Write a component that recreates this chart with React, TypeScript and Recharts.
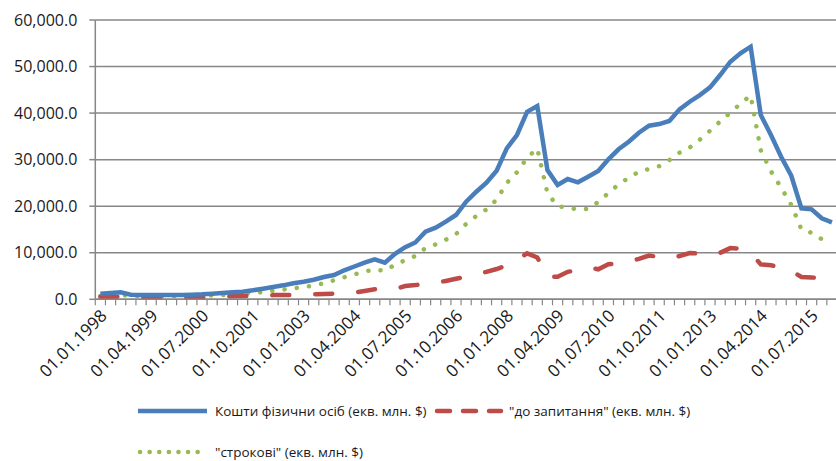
import { CartesianGrid, Line, LineChart, XAxis, YAxis } from "recharts";

// quarterly, 01.01.1998 .. 01.01.2016
const QUARTERS = [
  "01.01.1998", "01.04.1998", "01.07.1998", "01.10.1998",
  "01.01.1999", "01.04.1999", "01.07.1999", "01.10.1999",
  "01.01.2000", "01.04.2000", "01.07.2000", "01.10.2000",
  "01.01.2001", "01.04.2001", "01.07.2001", "01.10.2001",
  "01.01.2002", "01.04.2002", "01.07.2002", "01.10.2002",
  "01.01.2003", "01.04.2003", "01.07.2003", "01.10.2003",
  "01.01.2004", "01.04.2004", "01.07.2004", "01.10.2004",
  "01.01.2005", "01.04.2005", "01.07.2005", "01.10.2005",
  "01.01.2006", "01.04.2006", "01.07.2006", "01.10.2006",
  "01.01.2007", "01.04.2007", "01.07.2007", "01.10.2007",
  "01.01.2008", "01.04.2008", "01.07.2008", "01.10.2008",
  "01.01.2009", "01.04.2009", "01.07.2009", "01.10.2009",
  "01.01.2010", "01.04.2010", "01.07.2010", "01.10.2010",
  "01.01.2011", "01.04.2011", "01.07.2011", "01.10.2011",
  "01.01.2012", "01.04.2012", "01.07.2012", "01.10.2012",
  "01.01.2013", "01.04.2013", "01.07.2013", "01.10.2013",
  "01.01.2014", "01.04.2014", "01.07.2014", "01.10.2014",
  "01.01.2015", "01.04.2015", "01.07.2015", "01.10.2015",
  "01.01.2016",
];

// Кошти фізичних осіб, екв. млн. $
const TOTAL = [
  1200, 1350, 1500, 990, 920, 910, 920, 930, 950, 1000,
  1070, 1200, 1350, 1500, 1640, 1930, 2280, 2640, 3000, 3440,
  3780, 4210, 4790, 5220, 6230, 7050, 7890, 8590, 7870, 9770,
  11190, 12200, 14520, 15380, 16670, 18110, 20960, 23110, 25050, 27620,
  32430, 35290, 40290, 41520, 27770, 24550, 25840, 25130, 26330, 27560,
  30070, 32220, 33850, 35790, 37290, 37650, 38300, 40810, 42440, 43880,
  45540, 48180, 51040, 52840, 54260, 39590, 35290, 30630, 26550, 19550,
  19330, 17400, 16540,
];

// "до запитання"
const DEMAND = [
  560, 560, 550, 400, 340, 340, 340, 340, 340, 340,
  340, 380, 550, 680, 710, 760, 850, 900, 920, 950,
  1000, 1100, 1140, 1200, 1350, 1450, 1800, 2150, 2000, 2200,
  2860, 3050, 3300, 3550, 3950, 4400, 4900, 5350, 5900, 6500,
  7300, 8400, 9880, 9000, 4850, 4850, 5900, 6300, 6870, 6440,
  7520, 7700, 8100, 8700, 9400, 9100, 8700, 9300, 9950, 9800,
  9400, 10000, 11000, 10900, 10000, 7500, 7300, 6900, 6100, 4800,
  4700, 4500, 4500,
];

// "строкові"
const TERM = [
  700, 850, 900, 750, 640, 640, 640, 640, 650, 720,
  770, 800, 900, 1030, 1180, 1370, 1530, 1840, 2100, 2360,
  2650, 2950, 3450, 4100, 4750, 5350, 5950, 6400, 6100, 7450,
  8400, 9300, 11000, 11800, 12800, 14000, 16200, 17900, 19300, 21400,
  25000, 27300, 30400, 32400, 22800, 20000, 19700, 19300, 19400, 20900,
  22800, 24700, 26100, 27400, 28000, 28600, 29900, 31500, 32600, 34300,
  36200, 38200, 40100, 42000, 43800, 32000, 27500, 24000, 20300, 15000,
  14300, 12900, 12000,
];

const Y_TICKS = [0, 10000, 20000, 30000, 40000, 50000, 60000];
// a date label under every 5th quarter
const LABEL_EVERY = 5;
const BOUNDARY_TICKS = [...QUARTERS.map((_, i) => i - 0.5), QUARTERS.length - 0.5];

const NAME_TOTAL = "Кошти фізични осіб (екв. млн. $)";
const NAME_DEMAND = "\"до запитання\" (екв. млн. $)";
const NAME_TERM = "\"строкові\" (екв. млн. $)";

const BLUE = "#4a7ebb";
const RED = "#be4b48";
const GREEN = "#98b954";
const GRID = "#878787";
const FONT = "\"Open Sans\", sans-serif";

const data = QUARTERS.map((q, i) => ({
  x: i,
  date: q,
  total: TOTAL[i],
  demand: DEMAND[i],
  term: TERM[i],
}));

function fmtY(v: number): string {
  return v.toLocaleString("en-US", {
    minimumFractionDigits: 1,
    maximumFractionDigits: 1,
  });
}

// tick marks sit between quarters; labels sit under the quarter itself
function QuarterTick(props: any) {
  const { x, y, width, payload } = props;
  const half = width / QUARTERS.length / 2;
  const q = payload.value + 0.5;
  const showLabel = q < QUARTERS.length && q % LABEL_EVERY === 0;
  return (
    <g>
      <line x1={x} y1={y} x2={x} y2={y + 6} stroke={GRID} strokeWidth={1.2} />
      {showLabel && (
        <g transform={`translate(${x + half + 3},${y + 13})`}>
          <text
            x={0}
            y={0}
            transform="rotate(-45)"
            textAnchor="end"
            dominantBaseline="central"
            fontFamily={FONT}
            fontSize={17}
            fill="#1a1a1a"
          >
            {QUARTERS[q]}
          </text>
        </g>
      )}
    </g>
  );
}

function LegendOverlay() {
  const txt = {
    fontFamily: FONT,
    fontSize: 13.5,
    fill: "#1a1a1a",
    dominantBaseline: "central" as const,
  };
  return (
    <svg
      width={836}
      height={461}
      style={{ position: "absolute", left: 0, top: 0, pointerEvents: "none" }}
    >
      <line x1={138} y1={411} x2={207} y2={411} stroke={BLUE} strokeWidth={4.5} />
      <text x={215} y={411} {...txt}>{NAME_TOTAL}</text>
      <line
        x1={437}
        y1={411}
        x2={501}
        y2={411}
        stroke={RED}
        strokeWidth={4.5}
        strokeDasharray="13 13"
        strokeLinecap="round"
      />
      <text x={509} y={411} {...txt}>{NAME_DEMAND}</text>
      <line
        x1={140}
        y1={452}
        x2={207}
        y2={452}
        stroke={GREEN}
        strokeWidth={4.5}
        strokeDasharray="0.1 9.5"
        strokeLinecap="round"
      />
      <text x={215} y={452} {...txt}>{NAME_TERM}</text>
    </svg>
  );
}

export default function App() {
  return (
    <div
      style={{
        position: "relative",
        width: 836,
        height: 461,
        overflow: "hidden",
        background: "#fff",
      }}
    >
      <style>{"html,body{margin:0;padding:0;overflow:hidden}"}</style>
      <LineChart
        width={845}
        height={400}
        data={data}
        margin={{ top: 20, right: 8, bottom: 0, left: 0 }}
      >
        <CartesianGrid vertical={false} stroke={GRID} strokeWidth={1.5} />
        <XAxis
          dataKey="x"
          type="number"
          domain={[-0.5, QUARTERS.length - 0.5]}
          ticks={BOUNDARY_TICKS}
          interval={0}
          height={100.7}
          tickSize={0}
          tickMargin={0}
          axisLine={{ stroke: GRID, strokeWidth: 1.5 }}
          tickLine={false}
          tick={<QuarterTick />}
        />
        <YAxis
          domain={[0, 60000]}
          ticks={Y_TICKS}
          interval={0}
          width={95.3}
          tickSize={6}
          tickMargin={12}
          tickFormatter={fmtY}
          axisLine={{ stroke: GRID, strokeWidth: 1.5 }}
          tickLine={{ stroke: GRID, strokeWidth: 1.5 }}
          tick={{ fontFamily: FONT, fontSize: 16, fill: "#1a1a1a" }}
        />
        <Line
          type="linear"
          dataKey="term"
          name={NAME_TERM}
          stroke={GREEN}
          strokeWidth={4.5}
          strokeDasharray="0.1 12.2"
          strokeLinecap="round"
          dot={false}
          activeDot={false}
          isAnimationActive={false}
        />
        <Line
          type="linear"
          dataKey="demand"
          name={NAME_DEMAND}
          stroke={RED}
          strokeWidth={4.5}
          strokeDasharray="17 26"
          strokeLinecap="round"
          dot={false}
          activeDot={false}
          isAnimationActive={false}
        />
        <Line
          type="linear"
          dataKey="total"
          name={NAME_TOTAL}
          stroke={BLUE}
          strokeWidth={4.5}
          dot={false}
          activeDot={false}
          isAnimationActive={false}
        />
      </LineChart>
      <LegendOverlay />
    </div>
  );
}
